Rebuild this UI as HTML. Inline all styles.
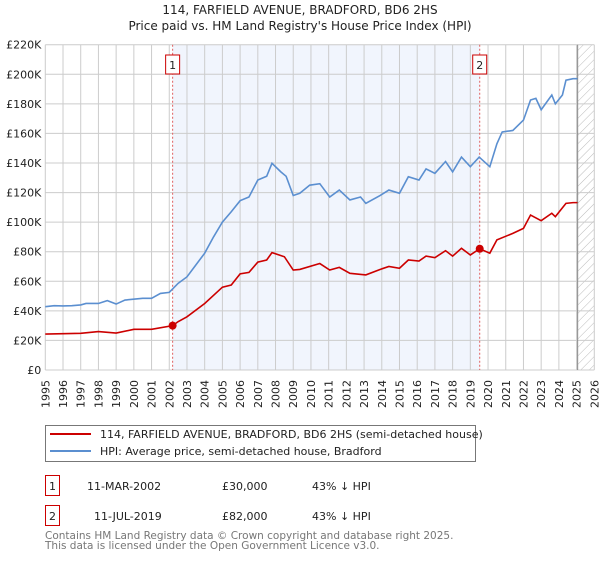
<!DOCTYPE html>
<html><head><meta charset="utf-8"><style>
body{margin:0;background:#fff;font-family:"DejaVu Sans","Liberation Sans",sans-serif;}
svg text{font-family:"DejaVu Sans","Liberation Sans",sans-serif;}
</style></head><body>
<svg id="c" width="600" height="560" xmlns="http://www.w3.org/2000/svg">
<defs><pattern id="hatch" width="6" height="6" patternUnits="userSpaceOnUse" patternTransform="rotate(45)"><line x1="0" y1="0" x2="0" y2="6" stroke="#bbb" stroke-width="1"/></pattern></defs>
<text x="300" y="14" text-anchor="middle" font-size="12" fill="#222">114, FARFIELD AVENUE, BRADFORD, BD6 2HS</text>
<text x="300" y="30" text-anchor="middle" font-size="12" fill="#222">Price paid vs. HM Land Registry's House Price Index (HPI)</text>
<g id="grid"></g><g id="marks"></g>
<g>
<rect x="45.5" y="425.5" width="430" height="36" fill="#fff" stroke="#777"/>
<line x1="50" y1="434" x2="91" y2="434" stroke="#cc0000" stroke-width="2"/>
<text x="100" y="438" font-size="11" fill="#222">114, FARFIELD AVENUE, BRADFORD, BD6 2HS (semi-detached house)</text>
<line x1="50" y1="451" x2="91" y2="451" stroke="#5b8fd0" stroke-width="2"/>
<text x="100" y="455" font-size="11" fill="#222">HPI: Average price, semi-detached house, Bradford</text>
</g>
<g font-size="11" fill="#222">
<rect x="45.5" y="475.5" width="14" height="20" fill="#fff" stroke="#cc0000"/><text x="52.5" y="490" text-anchor="middle">1</text>
<text x="87" y="490">11-MAR-2002</text><text x="222" y="490">£30,000</text><text x="312" y="490">43% ↓ HPI</text>
<rect x="45.5" y="505.5" width="14" height="20" fill="#fff" stroke="#cc0000"/><text x="52.5" y="520" text-anchor="middle">2</text>
<text x="94" y="520">11-JUL-2019</text><text x="222" y="520">£82,000</text><text x="312" y="520">43% ↓ HPI</text>
</g>
<text x="45" y="539" font-size="10.5" fill="#777">Contains HM Land Registry data © Crown copyright and database right 2025.</text>
<text x="45" y="549" font-size="10.5" fill="#777">This data is licensed under the Open Government Licence v3.0.</text>
</svg>
<script>
const hpiYears=[1995,1995.5,1996,1996.5,1997,1997.3,1998,1998.5,1999,1999.5,2000.5,2001,2001.5,2002,2002.5,2003,2003.5,2004,2004.5,2005,2005.5,2006,2006.5,2007,2007.5,2007.8,2008.3,2008.6,2009,2009.37,2009.93,2010.5,2011.06,2011.6,2012.2,2012.8,2013.1,2013.9,2014.4,2015,2015.5,2016.1,2016.5,2017,2017.6,2018,2018.5,2019,2019.5,2020.1,2020.5,2020.8,2021.4,2022,2022.4,2022.7,2023,2023.6,2023.8,2024.2,2024.4,2024.8,2025.05];
const hpiValues=[42.8,43.5,43.3,43.5,44,45,45,46.9,44.6,47.3,48.5,48.5,51.8,52.5,58.6,63,71,79,90,100,107,114.5,117,128.5,131,139.8,134,131,118,119.5,125,126,117,121.7,115,117,112.7,118,121.7,119.5,130.7,128.5,136,133,141,134,144,137.5,144,137.5,153,161,162,169,182.6,183.7,176,186,180,186,196,197,197];
const paidYears=[1995,1997,1998,1999,2000,2001,2002.19,2002.5,2003,2004,2005,2005.5,2006,2006.5,2007,2007.5,2007.8,2008.5,2009,2009.37,2010.5,2011.06,2011.6,2012.2,2013.1,2013.9,2014.4,2015,2015.5,2016.1,2016.5,2017,2017.6,2018,2018.5,2019,2019.53,2020.1,2020.5,2021.4,2022,2022.4,2023,2023.6,2023.8,2024.4,2024.8,2025.05];
const paidValues=[24.3,24.8,26,25,27.5,27.5,30,32.7,36,45,56,57.5,65,66,73,74.4,79.4,76.6,67.6,68,72,67.6,69.4,65.4,64.3,68,70,68.8,74.4,73.7,77,76,80.7,77,82.3,77.8,82,79,88,92.4,95.8,104.8,101,106,103.7,112.7,113.2,113.2];
const saleYears=[2002.19,2019.53];
const saleValues=[30,82];
const saleLabels=["1","2"];
const yTicks=[0,20,40,60,80,100,120,140,160,180,200,220];
const xTicks=[];for(let y=1995;y<=2026;y++)xTicks.push(y);
const X0=45.3,X1=594.3,Y0=370,Y1=44.7;
const xs=y=>X0+(y-1995)/31*(X1-X0);
const ys=v=>Y0-v/220*(Y0-Y1);
const NS="http://www.w3.org/2000/svg";
function mk(t,a,p){const e=document.createElementNS(NS,t);for(const k in a)e.setAttribute(k,a[k]);p.appendChild(e);return e;}
const g=document.getElementById('grid'),m=document.getElementById('marks');
let sh=mk('rect',{x:xs(saleYears[0]),y:Y1,width:xs(saleYears[1])-xs(saleYears[0]),height:Y0-Y1,fill:'#eef3fc',opacity:0.8},g);


let ht=mk('rect',{x:xs(2025.06),y:Y1,width:X1-xs(2025.06),height:Y0-Y1,fill:'url(#hatch)'},g);


xTicks.forEach(y=>{const x=xs(y);mk('line',{x1:x,y1:Y1,x2:x,y2:Y0,stroke:'#ccc','stroke-width':1},g);
const t=mk('text',{transform:`translate(${x+4},${Y0+38}) rotate(-90)`,'font-size':11,fill:'#222'},g);t.textContent=y;

});
yTicks.forEach(v=>{const y=ys(v);mk('line',{x1:X0,y1:y,x2:X1,y2:y,stroke:'#ccc','stroke-width':1},g);
const t=mk('text',{x:X0-4,y:y+4,'text-anchor':'end','font-size':11,fill:'#222'},g);t.textContent=v===0?'£0':'£'+v+'K';

});
mk('line',{x1:xs(2025.06),y1:Y1,x2:xs(2025.06),y2:Y0,stroke:'#888','stroke-width':1},g);
saleYears.forEach((s,i)=>{const x=xs(s);mk('line',{x1:x,y1:Y1,x2:x,y2:Y0,stroke:'#e06060','stroke-width':1,'stroke-dasharray':'2,2'},m);
const b=mk('rect',{x:x-7,y:55,width:14,height:19,fill:'#fff',stroke:'#cc0000'},m);


const t=mk('text',{x:x,y:69,'text-anchor':'middle','font-size':11,fill:'#222'},m);t.textContent=saleLabels[i];});
function line(xa,va,c,name){const p=mk('polyline',{points:xa.map((y,i)=>xs(y)+','+ys(va[i])).join(' '),fill:'none',stroke:c,'stroke-width':1.6},m);

}
line(hpiYears,hpiValues,'#5b8fd0','hpi-line');
line(paidYears,paidValues,'#cc0000','price-paid-line');
saleYears.forEach((s,i)=>{const c=mk('circle',{cx:xs(s),cy:ys(saleValues[i]),r:4,fill:'#cc0000'},m);

});
</script>
</body></html>
